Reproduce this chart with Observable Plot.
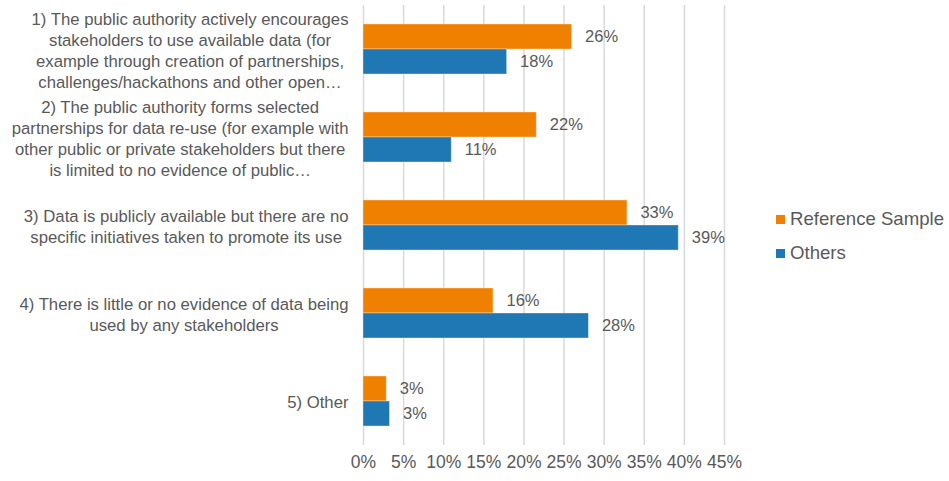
<!DOCTYPE html>
<html>
<head>
<meta charset="utf-8">
<script src="https://cdn.jsdelivr.net/npm/d3@7"></script>
<script src="https://cdn.jsdelivr.net/npm/@observablehq/plot@0.6"></script>
<style>
  html, body { margin: 0; padding: 0; background: #fff; }
  #wrap { position: relative; width: 949px; height: 481px; font-family: "Liberation Sans", Arial, sans-serif; }
  #legend { position: absolute; left: 776px; top: 202px; color: #595959; font-size: 18.6px; }
  .item { display: flex; align-items: center; height: 34px; }
  .sw { width: 9px; height: 9px; margin-right: 5px; }
</style>
</head>
<body>
<div id="wrap">
  <div id="chart"></div>
  <div id="legend"></div>
</div>
<script>
const categories = [
  "1) The public authority actively encourages\nstakeholders to use available data (for\nexample through creation of partnerships,\nchallenges/hackathons and other open…",
  "2) The public authority forms selected\npartnerships for data re-use (for example with\nother public or private stakeholders but there\nis limited to no evidence of public…",
  "3) Data is publicly available but there are no\nspecific initiatives taken to promote its use",
  "4) There is little or no evidence of data being\nused by any stakeholders",
  "5) Other"
];
const seriesNames = ["Reference Sample", "Others"];
const referenceValues = [26.0, 21.6, 32.9, 16.2, 2.9];
const othersValues = [17.9, 11.0, 39.3, 28.1, 3.3];
const seriesColors = ["#F08000", "#1F77B4"];
const xTicks = [0, 5, 10, 15, 20, 25, 30, 35, 40, 45];

const data = categories.flatMap((c, i) => [
  {cat: c, series: seriesNames[0], value: referenceValues[i]},
  {cat: c, series: seriesNames[1], value: othersValues[i]}
]);

const textColor = "#595959";

const chart = Plot.plot({
  width: 949,
  height: 481,
  marginLeft: 363,
  marginRight: 225,
  marginTop: 5,
  marginBottom: 36,
  style: {fontFamily: '"Liberation Sans", Arial, sans-serif', color: textColor, background: "#fff"},
  x: {domain: [0, 45]},
  fy: {domain: categories, padding: 0, label: null},
  y: {domain: seriesNames, padding: 0, insetTop: 19, insetBottom: 19, axis: null},
  color: {domain: seriesNames, range: seriesColors},
  marks: [
    Plot.gridX(xTicks, {stroke: "#D9D9D9", strokeOpacity: 1, strokeWidth: 1.5}),
    Plot.barX(data, {fy: "cat", y: "series", x: "value", fill: "series", stroke: "#ffffff", strokeOpacity: 0.35, strokeWidth: 1}),
    Plot.text(data, {fy: "cat", y: "series", x: "value", text: d => Math.round(d.value) + "%", textAnchor: "start", dx: 13, fontSize: 16.5, fill: textColor}),
    Plot.axisX(xTicks, {tickSize: 0, tickPadding: 10, tickFormat: d => d + "%", fontSize: 17.5, fill: textColor, label: null}),
    Plot.axisFy({anchor: "left", tickSize: 0, tickPadding: 15, fontSize: 16.7, lineHeight: 1.26, fill: textColor, label: null, textOverflow: null})
  ]
});

document.getElementById("chart").appendChild(chart);

// center multi-line category labels (widest line right-aligned at the axis)
chart.querySelectorAll('g[aria-label="fy-axis tick label"] text').forEach(t => {
  const spans = t.querySelectorAll("tspan");
  if (!spans.length) return;
  let w = 0;
  spans.forEach(s => { w = Math.max(w, s.getComputedTextLength()); });
  t.setAttribute("text-anchor", "middle");
  spans.forEach(s => s.setAttribute("x", -w / 2));
});

const legend = document.getElementById("legend");
seriesNames.forEach((name, i) => {
  const item = document.createElement("div");
  item.className = "item";
  const sw = document.createElement("div");
  sw.className = "sw";
  sw.style.background = seriesColors[i];
  const label = document.createElement("span");
  label.textContent = name;
  item.appendChild(sw);
  item.appendChild(label);
  legend.appendChild(item);
});
</script>
</body>
</html>
